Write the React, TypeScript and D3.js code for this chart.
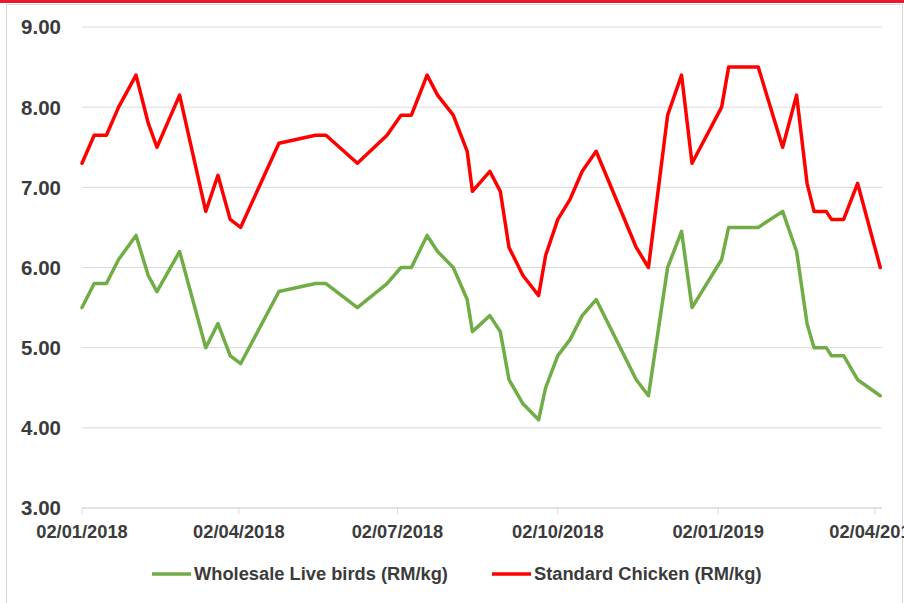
import React from "react";
import * as d3 from "d3";

const WIDTH = 904;
const HEIGHT = 603;

const dates = [
  "2018-01-02", "2018-01-09", "2018-01-16", "2018-01-23", "2018-02-02", "2018-02-09", "2018-02-14",
  "2018-02-27", "2018-03-14", "2018-03-21", "2018-03-28", "2018-04-03", "2018-04-25", "2018-05-16",
  "2018-05-22", "2018-06-09", "2018-06-26", "2018-07-04", "2018-07-10", "2018-07-19", "2018-07-25",
  "2018-08-03", "2018-08-11", "2018-08-14", "2018-08-24", "2018-08-30", "2018-09-04", "2018-09-12",
  "2018-09-21", "2018-09-25", "2018-10-02", "2018-10-09", "2018-10-16", "2018-10-24", "2018-11-16",
  "2018-11-23", "2018-12-04", "2018-12-12", "2018-12-18", "2019-01-04", "2019-01-08", "2019-01-25",
  "2019-02-08", "2019-02-16", "2019-02-22", "2019-02-26", "2019-03-05", "2019-03-08", "2019-03-15",
  "2019-03-23", "2019-04-05",
];

const liveBirds = [
  5.5, 5.8, 5.8, 6.1, 6.4, 5.9, 5.7,
  6.2, 5.0, 5.3, 4.9, 4.8, 5.7, 5.8,
  5.8, 5.5, 5.8, 6.0, 6.0, 6.4, 6.2,
  6.0, 5.6, 5.2, 5.4, 5.2, 4.6, 4.3,
  4.1, 4.5, 4.9, 5.1, 5.4, 5.6, 4.6,
  4.4, 6.0, 6.45, 5.5, 6.1, 6.5, 6.5,
  6.7, 6.2, 5.3, 5.0, 5.0, 4.9, 4.9,
  4.6, 4.4,
];

const standardChicken = [
  7.3, 7.65, 7.65, 8.0, 8.4, 7.8, 7.5,
  8.15, 6.7, 7.15, 6.6, 6.5, 7.55, 7.65,
  7.65, 7.3, 7.65, 7.9, 7.9, 8.4, 8.15,
  7.9, 7.45, 6.95, 7.2, 6.95, 6.25, 5.9,
  5.65, 6.15, 6.6, 6.85, 7.2, 7.45, 6.25,
  6.0, 7.9, 8.4, 7.3, 8.0, 8.5, 8.5,
  7.5, 8.15, 7.05, 6.7, 6.7, 6.6, 6.6,
  7.05, 6.0,
];

const yTicks = [3, 4, 5, 6, 7, 8, 9];
const xTicks = ["2018-01-02", "2018-04-02", "2018-07-02", "2018-10-02", "2019-01-02", "2019-04-02"];

const series = [
  { name: "Wholesale Live birds (RM/kg)", values: liveBirds, color: "#70ad47" },
  { name: "Standard Chicken (RM/kg)", values: standardChicken, color: "#ff0000" },
];

const parse = d3.utcParse("%Y-%m-%d");
const fmt = d3.utcFormat("%d/%m/%Y");

export default function App() {
  const x = d3.scaleUtc()
    .domain([parse("2018-01-02")!, parse("2019-04-06")!])
    .range([82, 882]);
  const y = d3.scaleLinear().domain([3, 9]).range([508, 27]);

  const line = d3.line<[Date, number]>()
    .x(d => x(d[0]))
    .y(d => y(d[1]));

  const font = "'Liberation Sans', Arial, sans-serif";
  const textColor = "#3b3b3b";

  return (
    <svg width={WIDTH} height={HEIGHT} style={{ position: "absolute", left: 0, top: 0, background: "#fff" }}>
      <rect x={0} y={0} width={WIDTH} height={3} fill="#e8192c" />
      <rect x={6.5} y={4.5} width={896} height={HEIGHT} fill="none" stroke="#d9d9d9" strokeWidth={1} />

      {yTicks.map(t => (
        <g key={t}>
          <line x1={82} x2={882} y1={y(t)} y2={y(t)} stroke="#d9d9d9" strokeWidth={t === 3 ? 1.5 : 1} />
          <text x={61} y={y(t)} dy="0.36em" textAnchor="end" fontFamily={font} fontWeight="bold"
            fontSize={20.5} fill={textColor}>{t.toFixed(2)}</text>
        </g>
      ))}

      {xTicks.map(s => {
        const d = parse(s)!;
        return (
          <g key={s}>
            <line x1={x(d)} x2={x(d)} y1={508} y2={514} stroke="#d9d9d9" strokeWidth={1} />
            <text x={x(d)} y={538} textAnchor="middle" fontFamily={font} fontWeight="bold"
              fontSize={18.3} fill={textColor}>{fmt(d)}</text>
          </g>
        );
      })}

      {series.map(s => (
        <path key={s.name}
          d={line(dates.map((dt, i) => [parse(dt)!, s.values[i]] as [Date, number])) || ""}
          fill="none" stroke={s.color} strokeWidth={3.5} strokeLinejoin="round" strokeLinecap="round" />
      ))}

      {series.map((s, i) => {
        const lx = i === 0 ? 152 : 492;
        return (
          <g key={s.name}>
            <line x1={lx} x2={lx + 39} y1={574} y2={574} stroke={s.color} strokeWidth={3.5} />
            <text x={lx + 42} y={580} fontFamily={font} fontWeight="bold" fontSize={18.3}
              fill={textColor}>{s.name}</text>
          </g>
        );
      })}
    </svg>
  );
}
